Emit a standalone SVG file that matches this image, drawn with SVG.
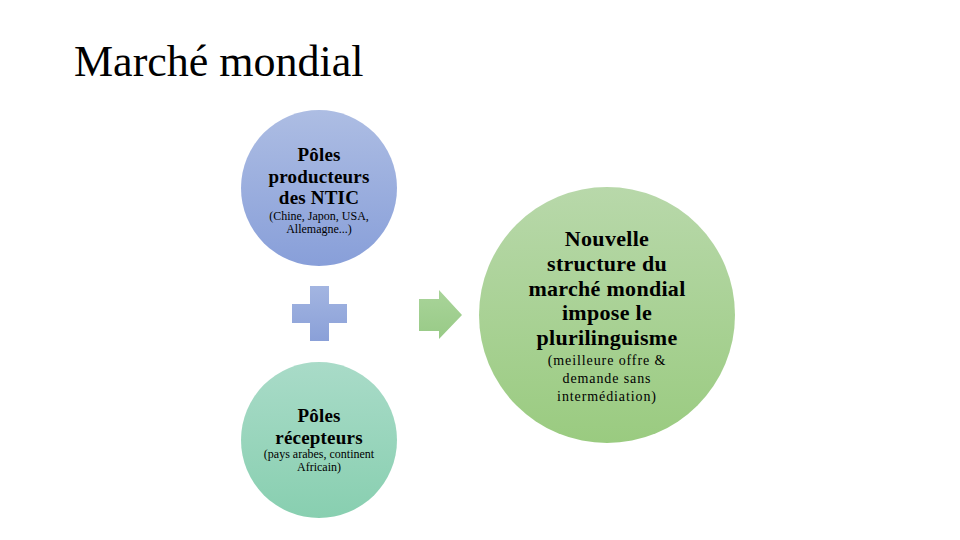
<svg xmlns="http://www.w3.org/2000/svg" width="960" height="540" viewBox="0 0 960 540">
<defs>
<linearGradient id="gb" x1="0" y1="0" x2="0" y2="1"><stop offset="0" stop-color="#adbde3"/><stop offset="1" stop-color="#889fd9"/></linearGradient>
<linearGradient id="gt" x1="0" y1="0" x2="0" y2="1"><stop offset="0" stop-color="#a9dbc8"/><stop offset="1" stop-color="#88cfb0"/></linearGradient>
<linearGradient id="gg" x1="0" y1="0" x2="0" y2="1"><stop offset="0" stop-color="#b8d8aa"/><stop offset="1" stop-color="#9acb80"/></linearGradient>
<linearGradient id="gp" x1="0" y1="0" x2="0" y2="1"><stop offset="0" stop-color="#a3b5e1"/><stop offset="1" stop-color="#8aa0d8"/></linearGradient>
<linearGradient id="ga" x1="0" y1="0" x2="0" y2="1"><stop offset="0" stop-color="#a9d49a"/><stop offset="1" stop-color="#98ca86"/></linearGradient>
</defs>
<rect width="960" height="540" fill="#fff"/>
<text x="74" y="76" style="font-family:'Liberation Serif',serif;font-size:44px">Marché mondial</text>

<g id="producteurs">
<circle cx="319" cy="188" r="78" fill="url(#gb)"/>
<text x="319" y="161" style="font-family:'Liberation Serif',serif;font-weight:bold;font-size:19px;text-anchor:middle;letter-spacing:0.2px">Pôles</text>
<text x="319" y="183" style="font-family:'Liberation Serif',serif;font-weight:bold;font-size:19px;text-anchor:middle;letter-spacing:0.2px">producteurs</text>
<text x="319" y="204" style="font-family:'Liberation Serif',serif;font-weight:bold;font-size:19px;text-anchor:middle;letter-spacing:0.2px">des NTIC</text>
<text x="319" y="220" style="font-family:'Liberation Serif',serif;font-size:12px;text-anchor:middle">(Chine, Japon, USA,</text>
<text x="319" y="233" style="font-family:'Liberation Serif',serif;font-size:12px;text-anchor:middle">Allemagne...)</text>
</g>

<g id="recepteurs">
<circle cx="319" cy="440" r="78" fill="url(#gt)"/>
<text x="319" y="422" style="font-family:'Liberation Serif',serif;font-weight:bold;font-size:19px;text-anchor:middle;letter-spacing:0.2px">Pôles</text>
<text x="319" y="444" style="font-family:'Liberation Serif',serif;font-weight:bold;font-size:19px;text-anchor:middle;letter-spacing:0.2px">récepteurs</text>
<text x="319" y="458" style="font-family:'Liberation Serif',serif;font-size:12px;text-anchor:middle">(pays arabes, continent</text>
<text x="319" y="471" style="font-family:'Liberation Serif',serif;font-size:12px;text-anchor:middle">Africain)</text>
</g>

<g id="structure">
<circle cx="607" cy="315" r="128" fill="url(#gg)"/>
<text x="607" y="246" style="font-family:'Liberation Serif',serif;font-weight:bold;font-size:22px;text-anchor:middle;letter-spacing:0.3px">Nouvelle</text>
<text x="607" y="271" style="font-family:'Liberation Serif',serif;font-weight:bold;font-size:22px;text-anchor:middle;letter-spacing:0.3px">structure du</text>
<text x="607" y="296" style="font-family:'Liberation Serif',serif;font-weight:bold;font-size:22px;text-anchor:middle;letter-spacing:0.3px">marché mondial</text>
<text x="607" y="320" style="font-family:'Liberation Serif',serif;font-weight:bold;font-size:22px;text-anchor:middle;letter-spacing:0.3px">impose le</text>
<text x="607" y="345" style="font-family:'Liberation Serif',serif;font-weight:bold;font-size:22px;text-anchor:middle;letter-spacing:0.3px">plurilinguisme</text>
<text x="607" y="365" style="font-family:'Liberation Serif',serif;font-size:14px;text-anchor:middle;letter-spacing:0.9px">(meilleure offre &amp;</text>
<text x="607" y="383" style="font-family:'Liberation Serif',serif;font-size:14px;text-anchor:middle;letter-spacing:0.9px">demande sans</text>
<text x="607" y="401" style="font-family:'Liberation Serif',serif;font-size:14px;text-anchor:middle;letter-spacing:0.9px">intermédiation)</text>
</g>

<g id="connectors">
<path d="M310 286 H329 V304 H347 V323 H329 V341 H310 V323 H292 V304 H310 Z" fill="url(#gp)"/>
<path d="M419 299 H439 V290 L462 315 L439 339 V331 H419 Z" fill="url(#ga)"/>
</g>
</svg>
